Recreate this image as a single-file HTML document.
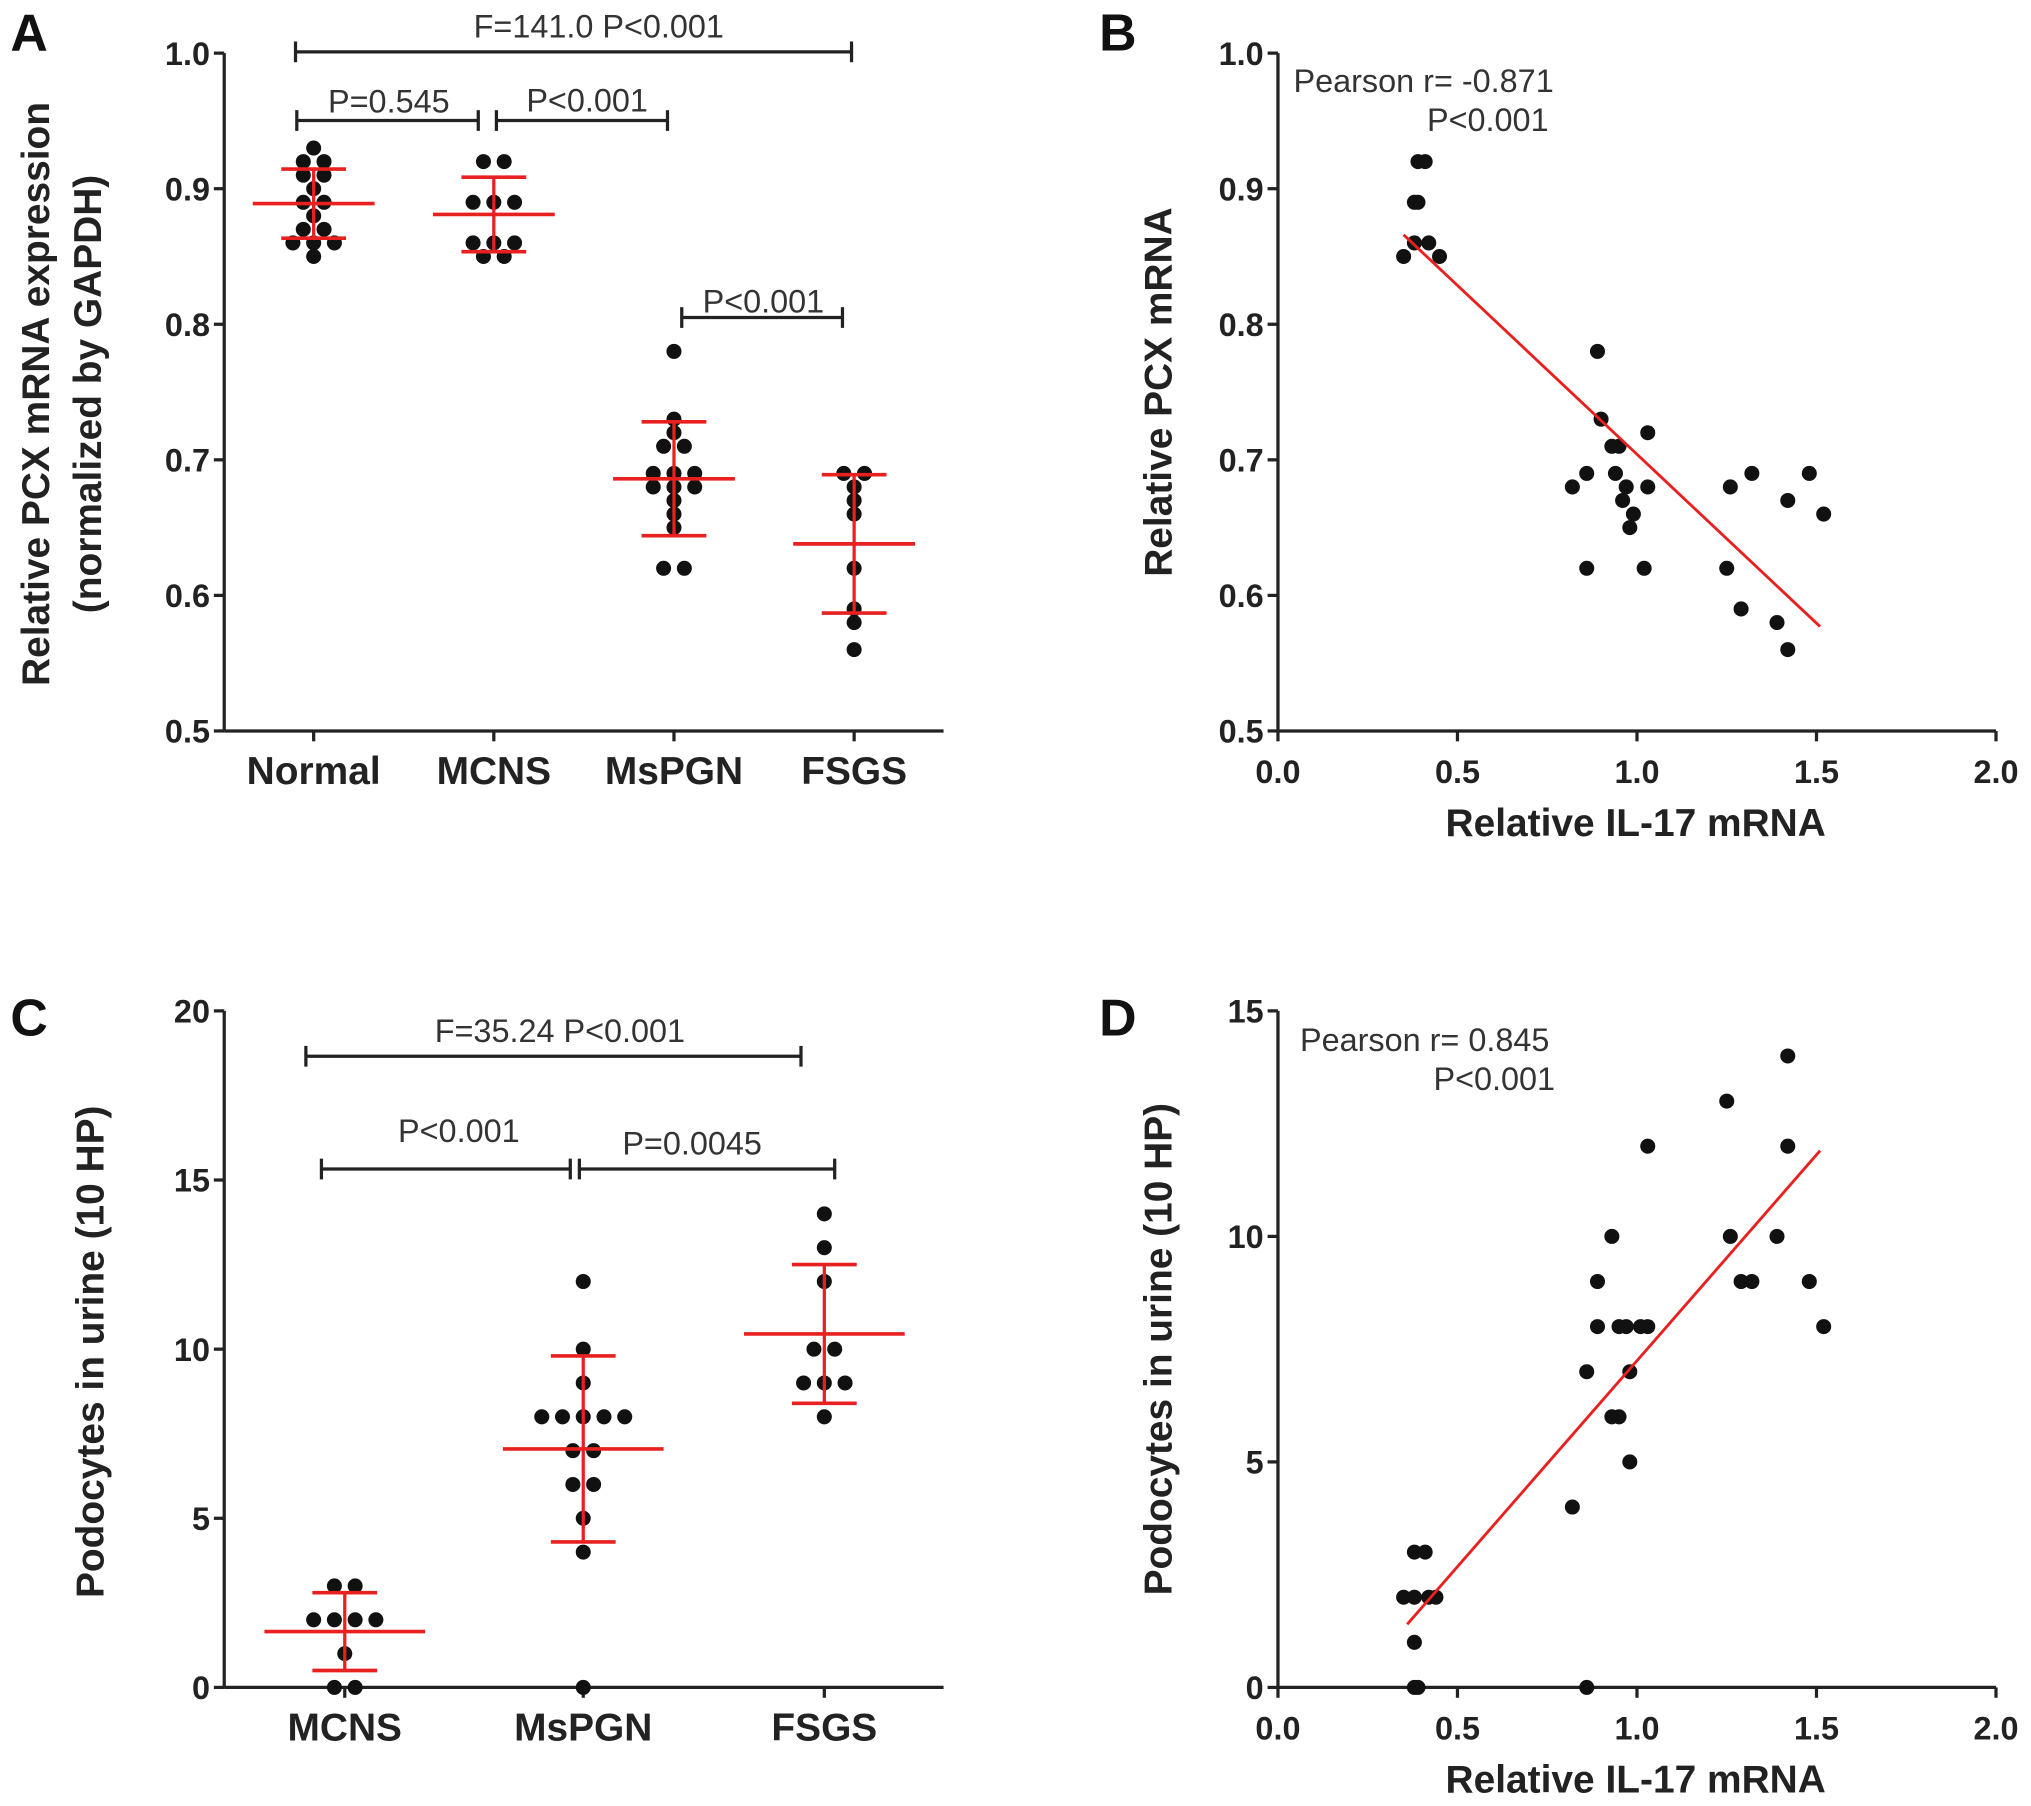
<!DOCTYPE html>
<html><head><meta charset="utf-8"><style>
html,body{margin:0;padding:0;background:#fff;}
svg{display:block;font-family:"Liberation Sans",Arial,sans-serif;}
</style></head><body>
<svg id="fig" width="2031" height="1806" viewBox="0 0 1567 1393.5" preserveAspectRatio="none"></svg>
<script>
// ---- Panel A data ----
const aCats = ["Normal","MCNS","MsPGN","FSGS"];
const aNormal = [0.92,0.93,0.92,0.91,0.91,0.90,0.89,0.89,0.88,0.87,0.87,0.86,0.86,0.86,0.85];
const aMCNS = [0.92,0.92,0.89,0.89,0.89,0.86,0.86,0.85,0.85,0.86];
const aMsPGN = [0.78,0.73,0.72,0.71,0.71,0.69,0.69,0.69,0.68,0.68,0.68,0.67,0.66,0.65,0.62,0.62];
const aFSGS = [0.69,0.69,0.68,0.67,0.66,0.62,0.59,0.58,0.56];
const aMean = [0.889,0.881,0.686,0.638];
const aSD = [0.0255,0.0275,0.042,0.051];
const aYTicks = [0.5,0.6,0.7,0.8,0.9,1.0];
// ---- Panel B data ----
const bX = [0.35,0.38,0.38,0.39,0.39,0.41,0.42,0.45,0.89,0.90,0.82,0.86,0.86,0.93,0.95,0.94,0.97,0.96,0.99,0.98,1.03,1.03,1.02,1.25,1.26,1.32,1.29,1.39,1.42,1.42,1.48,1.52];
const bY = [0.85,0.86,0.89,0.89,0.92,0.92,0.86,0.85,0.78,0.73,0.68,0.69,0.62,0.71,0.71,0.69,0.68,0.67,0.66,0.65,0.72,0.68,0.62,0.62,0.68,0.69,0.59,0.58,0.56,0.67,0.69,0.66];
const bFitX = [0.35,1.51];
const bFitY = [0.866,0.577];
const xTicks = [0.0,0.5,1.0,1.5,2.0];
// ---- Panel C data ----
const cCats = ["MCNS","MsPGN","FSGS"];
const cMCNS = [3,3,2,2,2,2,1,0,0];
const cMsPGN = [12,10,9,8,8,8,8,8,7,7,6,6,5,4,0];
const cFSGS = [14,13,12,10,10,9,9,9,8];
const cMean = [1.65,7.05,10.45];
const cSD = [1.15,2.75,2.05];
const cYTicks = [0,5,10,15,20];
// ---- Panel D data ----
const dX = [0.35,0.38,0.38,0.41,0.42,0.44,0.38,0.38,0.39,0.86,0.82,0.86,0.89,0.89,0.93,0.93,0.95,0.95,0.97,0.98,0.98,1.01,1.03,1.03,1.25,1.26,1.29,1.32,1.39,1.42,1.42,1.48,1.52];
const dY = [2,2,3,3,2,2,1,0,0,0,4,7,9,8,10,6,6,8,8,7,5,8,8,12,13,10,9,9,10,14,12,9,8];
const dFitX = [0.36,1.51];
const dFitY = [1.4,11.9];
const dYTicks = [0,5,10,15];

const NS="http://www.w3.org/2000/svg";
const svg=document.getElementById('fig');
function mk(tag,attrs,parent){const e=document.createElementNS(NS,tag);for(const k in attrs)e.setAttribute(k,attrs[k]);(parent||svg).appendChild(e);return e;}
function txt(s,x,y,size,weight,anchor,fill,parent,rot){const t=mk('text',{x:x,y:y,'font-size':size,'font-weight':weight,'text-anchor':anchor,fill:fill},parent);if(rot)t.setAttribute('transform','rotate(-90 '+x+' '+y+')');t.textContent=s;return t;}
function lin(x0,d0,r0,r1,d1){return v=>r0+(v-d0)/(d1-d0)*(r1-r0);}

function axes(g,ax,x0,x1,yTop,yBot,ys,yticks,fmt){
  const yl=mk('line',{x1:ax,y1:yTop,x2:ax,y2:yBot,stroke:'#222','stroke-width':2.5},g);
  
  const xl=mk('line',{x1:ax,y1:yBot,x2:x1,y2:yBot,stroke:'#222','stroke-width':2.5},g);
  
  yticks.forEach(v=>{const y=ys(v);mk('line',{x1:ax-8,y1:y,x2:ax,y2:y,stroke:'#222','stroke-width':2.5},g);
    const t=txt(fmt(v),ax-11,y+9,25,'bold','end','#222',g);
    });
}
function dot(g,x,y){const c=mk('circle',{cx:x,cy:y,r:5.8,fill:'#111'},g);
  }
function swarm(g,vals,cx,ys){
  const groups={};vals.forEach(v=>{(groups[v]=groups[v]||[]).push(v);});
  Object.keys(groups).forEach(k=>{const n=groups[k].length;groups[k].forEach((v,i)=>{dot(g,cx+(i-(n-1)/2)*16,ys(v));});});
}
function errbar(g,cx,ys,mean,sd,hw){
  const r='#e82020';
  const m=mk('line',{x1:cx-hw,y1:ys(mean),x2:cx+hw,y2:ys(mean),stroke:r,'stroke-width':2.8},g);
  
  mk('line',{x1:cx,y1:ys(mean+sd),x2:cx,y2:ys(mean-sd),stroke:r,'stroke-width':2.5},g);
  mk('line',{x1:cx-25,y1:ys(mean+sd),x2:cx+25,y2:ys(mean+sd),stroke:r,'stroke-width':2.8},g);
  mk('line',{x1:cx-25,y1:ys(mean-sd),x2:cx+25,y2:ys(mean-sd),stroke:r,'stroke-width':2.8},g);
}
function bracket(g,xa,xb,y,label,lx,ly,name){
  const b=mk('g',{},g);
  mk('line',{x1:xa,y1:y,x2:xb,y2:y,stroke:'#222','stroke-width':2.5},b);
  mk('line',{x1:xa,y1:y-8,x2:xa,y2:y+8,stroke:'#222','stroke-width':2.5},b);
  mk('line',{x1:xb,y1:y-8,x2:xb,y2:y+8,stroke:'#222','stroke-width':2.5},b);
  txt(label,lx,ly,25,'normal','middle','#333',b);
}
function panelLetter(s,x,y){const t=txt(s,x,y,40,'bold','start','#111');}

// ===== Panel A =====
(function(){
  const g=mk('g',{});
  const ys=lin(0.5,0.5,564,41,1.0);
  axes(g,173,173,728,41,564,ys,aYTicks,v=>v.toFixed(1));
  const cx=[242,381,520,659];
  cx.forEach((x,i)=>{mk('line',{x1:x,y1:564,x2:x,y2:572,stroke:'#222','stroke-width':2.5},g);
    const t=txt(aCats[i],x,605,30,'bold','middle','#222',g);});
  [aNormal,aMCNS,aMsPGN,aFSGS].forEach((arr,i)=>{swarm(g,arr,cx[i],ys);errbar(g,cx[i],ys,aMean[i],aSD[i],47);});
  const t1=txt('Relative PCX mRNA expression',38,304,30,'bold','middle','#222',g,true);
  
  const t2=txt('(normalized by GAPDH)',78,304,30,'bold','middle','#222',g,true);
  
  bracket(g,228,657,40,'F=141.0  P<0.001',462,29,'bracket-anova');
  bracket(g,229,369,93,'P=0.545',300,87,'bracket-normal-mcns');
  bracket(g,383,515,93,'P<0.001',453,86,'bracket-mcns-mspgn');
  bracket(g,526,650,245,'P<0.001',589,241,'bracket-mspgn-fsgs');
})();
panelLetter('A',8,39);

// ===== Panel B / D =====
function scatterPanel(name,yTicks,yMin,yMax,xs_,ys_,fx,fy,fmt,yTitle,stat1,stat2,ax,yTop,yBot,sx,sy1,sy2){
  const g=mk('g',{});
  const xs=lin(0,0,986,1540,2.0);const ys=lin(0,yMin,yBot,yTop,yMax);
  axes(g,986,986,1540,yTop,yBot,ys,yTicks,fmt);
  xTicks.forEach(v=>{const x=xs(v);mk('line',{x1:x,y1:yBot,x2:x,y2:yBot+8,stroke:'#222','stroke-width':2.5},g);
    const t=txt(v.toFixed(1),x,yBot+40,25,'bold','middle','#222',g);});
  xs_.forEach((v,i)=>dot(g,xs(v),ys(ys_[i])));
  const f=mk('line',{x1:xs(fx[0]),y1:ys(fy[0]),x2:xs(fx[1]),y2:ys(fy[1]),stroke:'#e82020','stroke-width':2.2},g);
  
  const xt=txt('Relative IL-17 mRNA',1262,yBot+81,30,'bold','middle','#222',g);
  const yt=txt(yTitle,904,(yTop+yBot)/2,30,'bold','middle','#222',g,true);
  const s1=txt(stat1,sx,sy1,25,'normal','start','#333',g);
  const s2=txt('P<0.001',sx+103,sy2,25,'normal','start','#333',g);
}
scatterPanel('panel-b',aYTicks,0.5,1.0,bX,bY,bFitX,bFitY,v=>v.toFixed(1),'Relative PCX mRNA','Pearson r= -0.871','',986,41,564,998,71,101);
panelLetter('B',848,39);

// ===== Panel C =====
(function(){
  const g=mk('g',{});
  const ys=lin(0,0,1302,780,20);
  axes(g,173,173,728,780,1302,ys,cYTicks,v=>String(v));
  const cx=[266,450,636];
  cx.forEach((x,i)=>{mk('line',{x1:x,y1:1302,x2:x,y2:1310,stroke:'#222','stroke-width':2.5},g);
    const t=txt(cCats[i],x,1343,30,'bold','middle','#222',g);});
  [cMCNS,cMsPGN,cFSGS].forEach((arr,i)=>{swarm(g,arr,cx[i],ys);errbar(g,cx[i],ys,cMean[i],cSD[i],62);});
  const t1=txt('Podocytes in urine (10 HP)',80,1043,30,'bold','middle','#222',g,true);
  
  bracket(g,236,618,815,'F=35.24  P<0.001',432,804,'bracket-anova');
  bracket(g,248,440,902,'P<0.001',354,881,'bracket-mcns-mspgn');
  bracket(g,447,644,902,'P=0.0045',534,891,'bracket-mspgn-fsgs');
})();
panelLetter('C',8,799);

scatterPanel('panel-d',dYTicks,0,15,dX,dY,dFitX,dFitY,v=>String(v),'Podocytes in urine (10 HP)','Pearson r= 0.845','',986,780,1302,1003,811,841);
panelLetter('D',848,799);
</script>
</body></html>
